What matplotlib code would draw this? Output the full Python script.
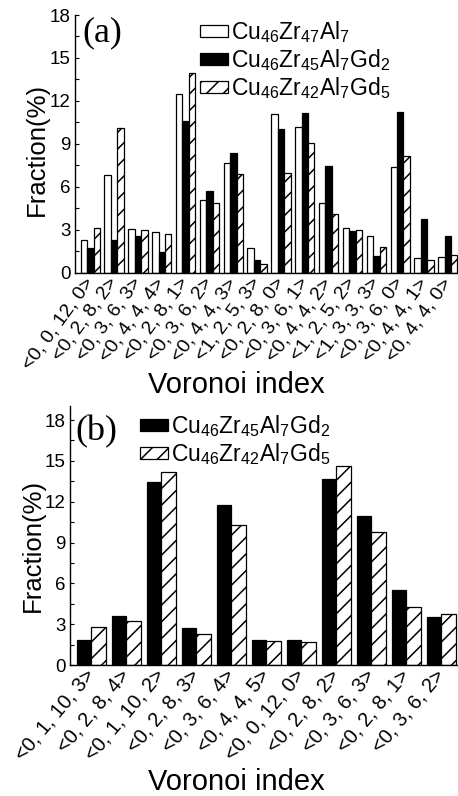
import matplotlib
matplotlib.use('Agg')
import matplotlib.pyplot as plt
import numpy as np

plt.rcParams['font.family'] = ['Liberation Sans', 'DejaVu Sans']
plt.rcParams['mathtext.fontset'] = 'custom'
plt.rcParams['mathtext.rm'] = 'Liberation Sans'
plt.rcParams['mathtext.default'] = 'regular'
plt.rcParams['hatch.linewidth'] = 1.1

# ---------------- data ----------------
cats_a = ['<0, 0, 12, 0>', '<0, 2, 8, 2>', '<0, 3, 6, 3>', '<0, 4, 4, 4>',
          '<0, 2, 8, 1>', '<0, 3, 6, 2>', '<0, 4, 4, 3>', '<1, 2, 5, 3>',
          '<0, 2, 8, 0>', '<0, 3, 6, 1>', '<0, 4, 4, 2>', '<1, 2, 5, 2>',
          '<1, 3, 3, 3>', '<0, 3, 6, 0>', '<0, 4, 4, 1>', '<0, 4, 4, 0>']
a_cu47 = [2.25, 6.85, 3.07, 2.85, 12.5, 5.08, 7.64, 1.70,
          11.06, 10.2, 4.84, 3.10, 2.56, 7.36, 1.05, 1.12]
a_gd2 = [1.70, 2.28, 2.56, 1.42, 10.62, 5.71, 8.34, 0.89,
         10.05, 11.17, 7.47, 2.91, 1.15, 11.2, 3.73, 2.56]
a_gd5 = [3.10, 10.13, 2.98, 2.68, 13.98, 4.84, 6.90, 0.58,
         6.95, 9.08, 4.10, 2.96, 1.77, 8.17, 0.89, 1.24]

cats_b = ['<0, 1, 10, 3>', '<0, 2, 8, 4>', '<0, 1, 10, 2>', '<0, 2, 8, 3>',
          '<0, 3, 6, 4>', '<0, 4, 4, 5>', '<0, 0, 12, 0>', '<0, 2, 8, 2>',
          '<0, 3, 6, 3>', '<0, 2, 8, 1>', '<0, 3, 6, 2>']
b_gd2 = [1.85, 3.63, 13.44, 2.73, 11.73, 1.85, 1.85, 13.66, 10.92, 5.54, 3.54]
b_gd5 = [2.76, 3.22, 14.17, 2.27, 10.26, 1.78, 1.66, 14.65, 9.75, 4.24, 3.78]

lab_cu47 = r'Cu$_{46}$Zr$_{47}$Al$_{7}$'
lab_gd2 = r'Cu$_{46}$Zr$_{45}$Al$_{7}$Gd$_{2}$'
lab_gd5 = r'Cu$_{46}$Zr$_{42}$Al$_{7}$Gd$_{5}$'
yticks = [0, 3, 6, 9, 12, 15, 18]

# ---------------- layout helpers ----------------
W, H = 458, 796
fig = plt.figure(figsize=(W / 100, H / 100), dpi=100)


def px_axes(left, top, right, bottom):
    return fig.add_axes([left / W, 1 - bottom / H, (right - left) / W, (bottom - top) / H])


def style_axes(ax):
    for s in ['top', 'right']:
        ax.spines[s].set_visible(False)
    for s in ['left', 'bottom']:
        ax.spines[s].set_linewidth(1.0)
    ax.set_yticks(yticks)
    ax.set_yticks(np.arange(1.5, 19, 3), minor=True)
    ax.tick_params(axis='y', which='major', direction='in', length=3, width=0.8,
                   labelsize=13.5, pad=3)
    ax.tick_params(axis='y', which='minor', direction='in', length=3, width=0.8)
    ax.tick_params(axis='x', which='both', length=0, pad=5)


edge = dict(edgecolor='black', linewidth=0.9)
leg_kw = dict(frameon=False, fontsize=16.5, handlelength=1.2, handleheight=0.4,
              handletextpad=0.15, labelspacing=0.1, borderpad=0, borderaxespad=0)

# ---------------- panel (a) ----------------
axa = px_axes(75, 15, 470, 272.7)
xa = np.arange(len(cats_a))
wa = 0.27
axa.bar(xa - wa, a_cu47, wa, color='white', label=lab_cu47, **edge)
axa.bar(xa, a_gd2, wa, color='black', label=lab_gd2, **edge)
axa.bar(xa + wa, a_gd5, wa, color='white', hatch='//', label=lab_gd5, **edge)
axa.set_xlim(-0.642, 15.93)
axa.set_ylim(0, 18)
style_axes(axa)
axa.set_xticks(xa)
axa.set_xticklabels(cats_a, rotation=54, ha='right', va='center',
                    rotation_mode='anchor', fontsize=14)
fig.text(82 / W, 1 - 33 / H, '(a)', family='Liberation Serif',
         fontsize=26, va='center', ha='left')
axa.legend(loc='upper left', bbox_to_anchor=(200 / W, 1 - 19 / H),
           bbox_transform=fig.transFigure, **leg_kw)
fig.text(37 / W, 1 - 149 / H, 'Fraction(%)', rotation=90, fontsize=18.5, ha='center', va='center')
fig.text(236 / W, 1 - 393 / H, 'Voronoi index', fontsize=21, ha='center', va='baseline')

# ---------------- panel (b) ----------------
axb = px_axes(70, 406.4, 470, 665)
xb = np.arange(len(cats_b))
wb = 0.414
axb.bar(xb - wb / 2, b_gd2, wb, color='black', label=lab_gd2, **edge)
axb.bar(xb + wb / 2, b_gd5, wb, color='white', hatch='//', label=lab_gd5, **edge)
axb.set_xlim(-0.606, 10.82)
axb.set_ylim(0, 19)
style_axes(axb)
axb.set_xticks(xb)
axb.set_xticklabels(cats_b, rotation=50, ha='right', va='center',
                    rotation_mode='anchor', fontsize=14.5)
fig.text(75 / W, 1 - 432 / H, '(b)', family='Liberation Serif',
         fontsize=26, va='center', ha='left')
axb.legend(loc='upper left', bbox_to_anchor=(140 / W, 1 - 413 / H),
           bbox_transform=fig.transFigure, **leg_kw)
fig.text(33 / W, 1 - 545 / H, 'Fraction(%)', rotation=90, fontsize=18.5, ha='center', va='center')
fig.text(236 / W, 1 - 790 / H, 'Voronoi index', fontsize=21, ha='center', va='baseline')

fig.savefig('out.png', dpi=100)
